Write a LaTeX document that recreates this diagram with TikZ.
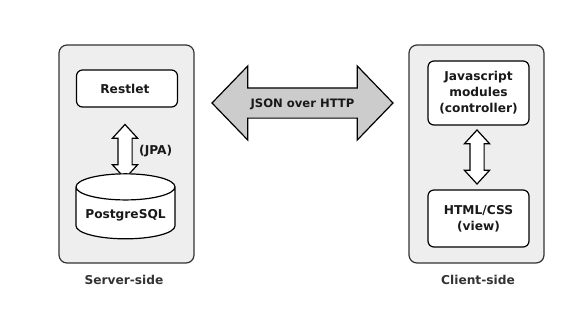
\documentclass[tikz,border=0pt]{standalone}
\usepackage{fontspec}
\setmainfont{DejaVu Sans}
\usetikzlibrary{positioning,shapes.geometric,shapes.arrows}

\definecolor{panelfill}{HTML}{EEEEEE}
\definecolor{edgegray}{HTML}{333333}
\definecolor{arrowfill}{HTML}{CCCCCC}

\begin{document}
\begin{tikzpicture}
[
    x = 1pt, y = -1pt,
    node distance = 16pt,
    txt/.style      = {font=\bfseries\fontsize{12.2}{16}\selectfont,
                       text=black!90},
    panel/.style    = {draw=edgegray,
                       fill=panelfill,
                       line width=1.2pt,
                       rounded corners=8pt,
                       minimum width=135pt,
                       minimum height=218pt},
    module/.style   = {txt,
                       draw=black,
                       fill=white,
                       line width=1.2pt,
                       rounded corners=6pt,
                       minimum width=101pt,
                       align=center},
    database/.style = {txt,
                       cylinder,
                       shape border rotate=90,
                       aspect=0.3,
                       draw=black,
                       fill=white,
                       line width=1.2pt,
                       minimum width=99pt,
                       minimum height=65pt},
    vlink/.style    = {double arrow,
                       shape border rotate=90,
                       draw=black,
                       fill=white,
                       line width=1.2pt,
                       inner sep=6.5pt,
                       double arrow head extend=5.5pt,
                       double arrow tip angle=85,
                       minimum height=54pt},
    wire/.style     = {txt,
                       font=\bfseries\fontsize{11.6}{16}\selectfont,
                       double arrow,
                       draw=black,
                       fill=arrowfill,
                       line width=1.2pt,
                       text height=8pt,
                       text depth=0pt,
                       inner xsep=-3pt,
                       inner ysep=10.5pt,
                       double arrow head extend=22pt,
                       double arrow tip angle=92,
                       minimum height=181pt},
    caption/.style  = {txt,
                       text=edgegray}
]
\useasboundingbox (0,0) rectangle (569,309);

% server and client panels
\node (server) [panel] at (126.5,154) {};
\node (client) [panel] at (476.5,154) {};

\node (serverlbl) [caption] at (124,280) {Server-side};
\node (clientlbl) [caption] at (478,280) {Client-side};

% server side
\node (restlet) [module, minimum height=37pt] at (127,88.5) {
Restlet
};

\node (jpa) [vlink, below=16pt of restlet, xshift=-2pt] {};

\node (jpalbl) [txt, right=3pt of jpa] {(JPA)};

\node (postgres) [database] at (125.5,215.5) {
PostgreSQL
};

% client side
\node (jsmod) [module, minimum height=64pt] at (478.5,93) {
Javascript\\modules\\(controller)
};

\node (html) [module, minimum height=57pt] at (478.5,218.5) {
HTML/CSS\\(view)
};

\node (mvc) [vlink] at (477,157) {};

% transport between both sides
\node (json) [wire] at (302.5,103) {JSON over HTTP};

\end{tikzpicture}
\end{document}
